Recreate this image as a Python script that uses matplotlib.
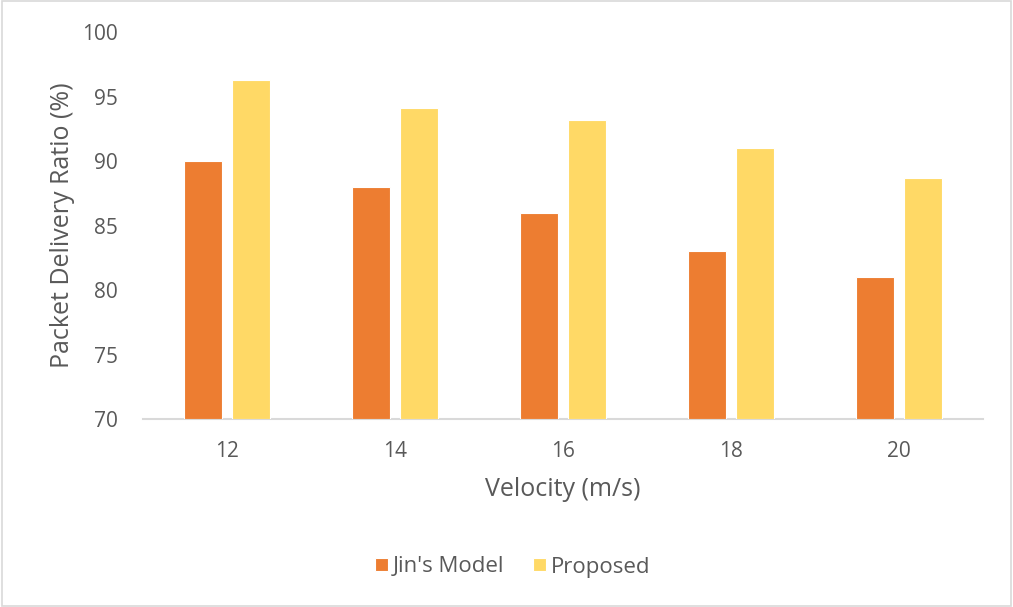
import matplotlib
matplotlib.use("Agg")
import matplotlib.pyplot as plt
import numpy as np
from matplotlib.patches import Rectangle

velocities = ["12", "14", "16", "18", "20"]
jins_model = [90, 88, 86, 83, 81]
proposed = [96.3, 94.1, 93.2, 91.0, 88.7]
y_ticks = [70, 75, 80, 85, 90, 95, 100]

plt.rcParams['font.family'] = ['Open Sans', 'DejaVu Sans']
text_color = "#595959"

fig = plt.figure(figsize=(10.13, 6.07), dpi=100)
fig.patches.append(Rectangle((0.002, 0.002), 0.996, 0.996, transform=fig.transFigure,
                             fill=False, edgecolor="#D9D9D9", linewidth=1.2))
ax = fig.add_axes([143 / 1013, 1 - 419 / 607, 840 / 1013, 387 / 607])

x = np.arange(len(velocities))
w = 0.226
off = 0.143
ax.bar(x - off, np.array(jins_model) - 70, w, bottom=70, color="#ED7D31",
       edgecolor="white", linewidth=0.8, label="Jin's Model", zorder=3)
ax.bar(x + off, np.array(proposed) - 70, w, bottom=70, color="#FFD966",
       edgecolor="white", linewidth=0.8, label="Proposed", zorder=3)

ax.set_xlim(-0.5, len(velocities) - 0.5)
ax.set_ylim(70, 100)
ax.set_yticks(y_ticks)
ax.set_xticks(x)
ax.set_xticklabels(velocities)
for s in ["top", "right", "left"]:
    ax.spines[s].set_visible(False)
ax.spines["bottom"].set_color("#D9D9D9")
ax.spines["bottom"].set_linewidth(1.5)
ax.tick_params(axis="both", length=0, labelsize=15, labelcolor=text_color)
ax.tick_params(axis="y", pad=18)
ax.tick_params(axis="x", pad=16)

ax.set_ylabel("Packet Delivery Ratio (%)", fontsize=18, color=text_color, labelpad=5)
ax.set_xlabel("Velocity (m/s)", fontsize=18, color=text_color, labelpad=11)

fig.legend(loc="center", bbox_to_anchor=(513 / 1013, 1 - 567 / 607), ncol=2, frameon=False,
           fontsize=16, labelcolor=text_color, handlelength=0.55, handleheight=0.55,
           handletextpad=0.25, columnspacing=1.3)

fig.savefig("out.png", dpi=100)
